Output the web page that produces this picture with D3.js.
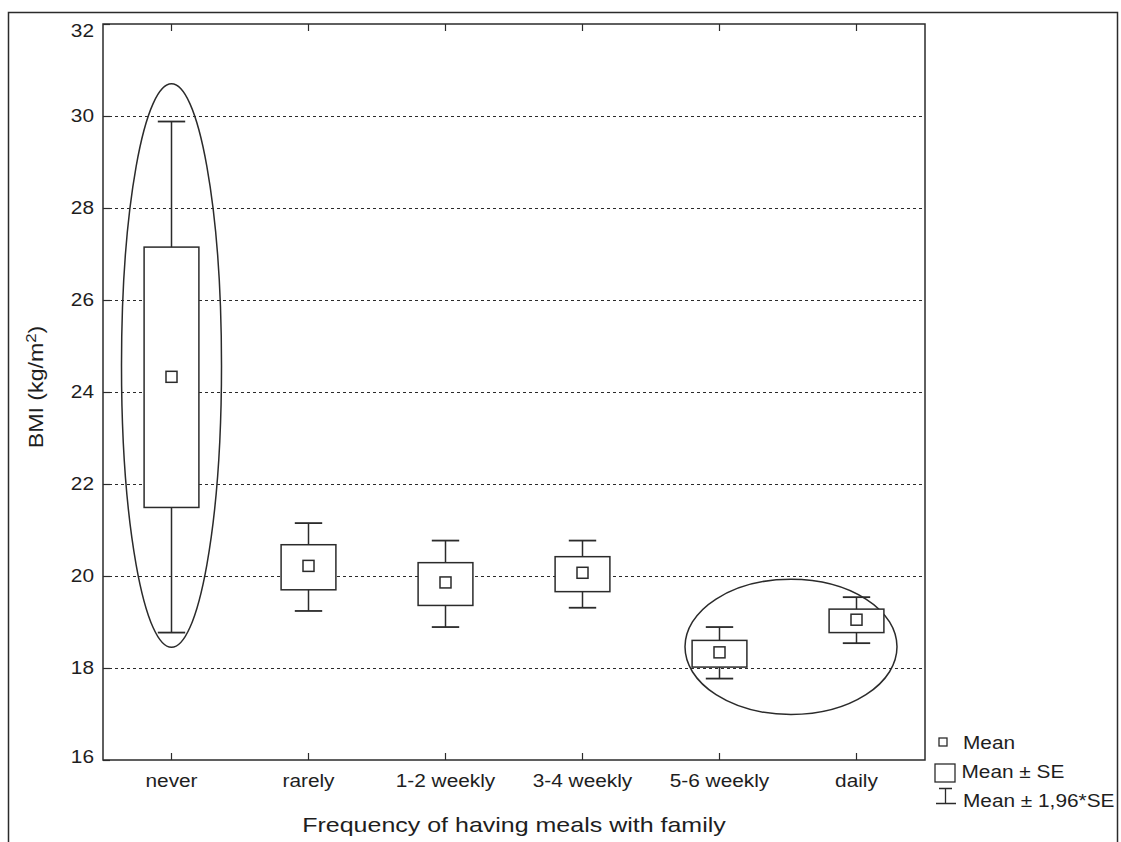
<!DOCTYPE html>
<html>
<head>
<meta charset="utf-8">
<script src="https://cdn.jsdelivr.net/npm/d3@7"></script>
<style>
	body { margin: 0; background: white; }
	text { font-family: "Liberation Sans", Arial, sans-serif; fill: #1e1e1e; }
</style>
</head>
<body>
<div id="chartDiv"></div>
<script>
let categories = ["never", "rarely", "1-2 weekly", "3-4 weekly", "5-6 weekly", "daily"]
let means = [24.33, 20.22, 19.86, 20.07, 18.34, 19.05]
let seLow = [21.49, 19.70, 19.36, 19.66, 18.02, 18.77]
let seHigh = [27.15, 20.68, 20.29, 20.42, 18.60, 19.28]
let ciLow = [18.77, 19.24, 18.89, 19.31, 17.77, 18.54]
let ciHigh = [29.88, 21.15, 20.77, 20.77, 18.89, 19.54]
let yTicks = [16, 18, 20, 22, 24, 26, 28, 30, 32]
let gridTicks = [18, 20, 22, 24, 26, 28, 30]

// highlighted groups: [first category, last category, low value, high value]
let ellipses = [
	["never", "never", 18.45, 30.70],
	["5-6 weekly", "daily", 16.99, 19.93]
]

let width = 1121
let height = 842
let plot = {left: 103, top: 24, right: 925, bottom: 760}
let ink = "#2b2b2b"
// the scanned text is wider than Arial, so stretch it a bit
let stretch = 1.19
let fontSize = 17.5

let svg = d3.select("#chartDiv")
	.append("svg")
	.attr("width", width)
	.attr("height", height)

// outer frame (runs off the bottom like the scan)
svg.append("rect")
	.attr("x", 8.5)
	.attr("y", 12.5)
	.attr("width", 1109)
	.attr("height", 900)
	.attr("fill", "none")
	.attr("stroke", ink)
	.attr("stroke-width", 1.5)

let x = d3.scaleBand()
	.domain(categories)
	.range([plot.left, plot.right])

let y = d3.scaleLinear()
	.domain([16, 32])
	.range([plot.bottom, plot.top])

let cx = c => x(c) + x.bandwidth() / 2

// dotted grid
svg.append("g")
	.selectAll("line")
	.data(gridTicks)
	.enter()
	.append("line")
	.attr("x1", plot.left)
	.attr("x2", plot.right)
	.attr("y1", d => Math.round(y(d)) + 0.5)
	.attr("y2", d => Math.round(y(d)) + 0.5)
	.attr("stroke", ink)
	.attr("stroke-width", 1.2)
	.attr("stroke-dasharray", "3,3")

// plot border
svg.append("rect")
	.attr("x", plot.left)
	.attr("y", plot.top)
	.attr("width", plot.right - plot.left)
	.attr("height", plot.bottom - plot.top)
	.attr("fill", "none")
	.attr("stroke", ink)
	.attr("stroke-width", 1.5)

// y axis, ticks pointing inward
let yAxis = svg.append("g")
	.attr("transform", "translate(" + plot.left + ",0)")
	.call(d3.axisLeft(y).tickValues(yTicks).tickSizeInner(-7).tickSizeOuter(0).tickPadding(9 / stretch))
yAxis.select(".domain").remove()
yAxis.selectAll("line").attr("stroke", ink).attr("stroke-width", 1.2)
yAxis.selectAll("text")
	.attr("font-size", fontSize)
	.attr("fill", "#1e1e1e")
	.attr("font-family", "Liberation Sans, Arial, sans-serif")
	.attr("transform", "scale(" + stretch + ",1)")
	.attr("dy", d => d == 32 ? "0.7em" : d == 16 ? "0.12em" : "0.32em")

// x axis bottom
let xAxis = svg.append("g")
	.attr("transform", "translate(0," + plot.bottom + ")")
	.call(d3.axisBottom(x).tickSizeInner(-7).tickSizeOuter(0).tickPadding(14.6))
xAxis.select(".domain").remove()
xAxis.selectAll("line").attr("stroke", ink).attr("stroke-width", 1.2)
xAxis.selectAll("text")
	.attr("font-size", fontSize)
	.attr("fill", "#1e1e1e")
	.attr("font-family", "Liberation Sans, Arial, sans-serif")
	.attr("transform", "scale(" + stretch + ",1)")

// x ticks on top edge
let xTop = svg.append("g")
	.attr("transform", "translate(0," + plot.top + ")")
	.call(d3.axisTop(x).tickSizeInner(-7).tickSizeOuter(0).tickFormat(""))
xTop.select(".domain").remove()
xTop.selectAll("line").attr("stroke", ink).attr("stroke-width", 1.2)

// axis titles
svg.append("text")
	.attr("transform", "translate(514,832) scale(" + stretch + ",1)")
	.attr("text-anchor", "middle")
	.attr("font-size", 21)
	.text("Frequency of having meals with family")

let yTitle = svg.append("text")
	.attr("transform", "translate(43,387) rotate(-90) scale(" + stretch + ",1)")
	.attr("text-anchor", "middle")
	.attr("font-size", 19.5)
yTitle.append("tspan").text("BMI (kg/m")
yTitle.append("tspan").attr("baseline-shift", "super").attr("font-size", 14).text("2")
yTitle.append("tspan").text(")")

// ellipses round highlighted groups
svg.append("g")
	.selectAll("ellipse")
	.data(ellipses)
	.enter()
	.append("ellipse")
	.attr("cx", d => (cx(d[0]) + cx(d[1])) / 2 + (d[0] == d[1] ? 0 : 3))
	.attr("cy", d => (y(d[2]) + y(d[3])) / 2)
	.attr("rx", d => d[0] == d[1] ? 50 : 106)
	.attr("ry", d => (y(d[2]) - y(d[3])) / 2)
	.attr("fill", "none")
	.attr("stroke", ink)
	.attr("stroke-width", 1.5)

let boxW = x.bandwidth() * 0.4
let capW = x.bandwidth() * 0.2
let meanS = 11

let groups = svg.append("g")
	.selectAll("g")
	.data(categories)
	.enter()
	.append("g")

// whiskers
groups.append("line")
	.attr("x1", d => cx(d))
	.attr("x2", d => cx(d))
	.attr("y1", (d, i) => y(ciLow[i]))
	.attr("y2", (d, i) => y(ciHigh[i]))
	.attr("stroke", ink)
	.attr("stroke-width", 1.5)

groups.append("line")
	.attr("x1", d => cx(d) - capW / 2)
	.attr("x2", d => cx(d) + capW / 2)
	.attr("y1", (d, i) => y(ciHigh[i]))
	.attr("y2", (d, i) => y(ciHigh[i]))
	.attr("stroke", ink)
	.attr("stroke-width", 1.8)

groups.append("line")
	.attr("x1", d => cx(d) - capW / 2)
	.attr("x2", d => cx(d) + capW / 2)
	.attr("y1", (d, i) => y(ciLow[i]))
	.attr("y2", (d, i) => y(ciLow[i]))
	.attr("stroke", ink)
	.attr("stroke-width", 1.8)

// SE boxes
groups.append("rect")
	.attr("x", d => cx(d) - boxW / 2)
	.attr("y", (d, i) => y(seHigh[i]))
	.attr("width", boxW)
	.attr("height", (d, i) => y(seLow[i]) - y(seHigh[i]))
	.attr("fill", "white")
	.attr("stroke", ink)
	.attr("stroke-width", 1.5)

// mean squares
groups.append("rect")
	.attr("x", d => cx(d) - meanS / 2)
	.attr("y", (d, i) => y(means[i]) - meanS / 2)
	.attr("width", meanS)
	.attr("height", meanS)
	.attr("fill", "white")
	.attr("stroke", ink)
	.attr("stroke-width", 1.5)

// legend
let legend = svg.append("g")

let legendText = (lx, ly, t) => legend
	.append("text")
	.attr("transform", "translate(" + lx + "," + ly + ") scale(" + stretch + ",1)")
	.attr("font-size", fontSize)
	.text(t)

legend.append("rect")
	.attr("x", 939).attr("y", 738)
	.attr("width", 8).attr("height", 8)
	.attr("fill", "white").attr("stroke", ink).attr("stroke-width", 1.3)
legendText(963, 749, "Mean")

legend.append("rect")
	.attr("x", 935).attr("y", 764)
	.attr("width", 20).attr("height", 18)
	.attr("fill", "white").attr("stroke", ink).attr("stroke-width", 1.3)
legendText(961.5, 778, "Mean ± SE")

legend.append("path")
	.attr("d", "M939,788.5H952M945.5,788.5V803M936,803.5H956")
	.attr("fill", "none").attr("stroke", ink).attr("stroke-width", 1.3)
legendText(963, 807, "Mean ± 1,96*SE")
</script>
</body>
</html>
